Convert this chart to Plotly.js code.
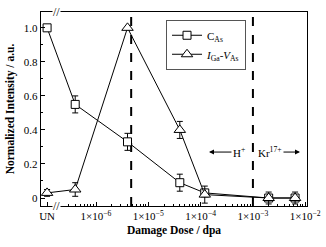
<!DOCTYPE html>
<html>
<head>
<meta charset="utf-8">
<script src="https://cdn.plot.ly/plotly-3.0.1.min.js"></script>
<style>html,body{margin:0;padding:0;background:#fff;}#chart{width:326px;height:247px;}</style>
</head>
<body>
<div id="chart"></div>
<script>
// ---- data ----
var categories = ['UN', '4e-7', '4e-6', '4e-5', '1.2e-4', '2e-3', '6.4e-3'];
var unPosition = 1.16e-7;            // where the "UN" (unirradiated) sample sits on the broken axis
var doses = [null, 4e-7, 4e-6, 4e-5, 1.2e-4, 2e-3, 6.4e-3];
var cAs = [1.0, 0.55, 0.33, 0.09, 0.03, 0.0, 0.0];
var cAsErr = [0, 0.05, 0.05, 0.05, 0.02, 0.02, 0.02];
var iGaVAs = [0.03, 0.05, 1.0, 0.40, 0.02, 0.0, 0.0];
var iGaVAsErr = [0.02, 0.04, 0, 0.05, 0.05, 0.035, 0.035];
var boundaries = [4.7e-6, 1e-3];
var xTickVals = [unPosition, 1e-6, 1e-5, 1e-4, 1e-3, 1e-2];
var xTickText = ['UN', '1×10<sup>−6</sup>', '1×10<sup>−5</sup>', '1×10<sup>−4</sup>', '1×10<sup>−3</sup>', '1×10<sup>−2</sup>'];
var yTickVals = [0, 0.2, 0.4, 0.6, 0.8, 1.0];
var yTickText = ['0', '0.2', '0.4', '0.6', '0.8', '1.0'];

var xs = doses.map(function (d, i) { return categories[i] === 'UN' ? unPosition : d; });

var minorVals = [];
[1e-7, 1e-6, 1e-5, 1e-4, 1e-3].forEach(function (dec) {
  for (var k = 2; k <= 9; k++) {
    var v = k * dec;
    if (v > 2.5e-7 && v < 1.05e-2) minorVals.push(v);
  }
});

var FONT = 'Liberation Serif, Times New Roman, serif';

var traces = [
  {
    x: xs, y: cAs, name: 'C<sub>As</sub>', type: 'scatter', mode: 'lines+markers',
    line: {color: 'black', width: 1},
    marker: {symbol: 'square', size: 8, color: 'white', line: {color: 'black', width: 1}},
    error_y: {type: 'data', array: cAsErr, visible: true, color: 'black', thickness: 1, width: 3}
  },
  {
    x: xs, y: iGaVAs, name: '<i>I</i><sub>Ga</sub>-<i>V</i><sub>As</sub>', type: 'scatter', mode: 'lines+markers',
    line: {color: 'black', width: 1},
    marker: {symbol: 'triangle-up', size: 10, color: 'white', line: {color: 'black', width: 1}},
    error_y: {type: 'data', array: iGaVAsErr, visible: true, color: 'black', thickness: 1, width: 3}
  }
];

var shapes = boundaries.map(function (b) {
  return {type: 'line', xref: 'x', yref: 'paper', x0: b, x1: b, y0: 0, y1: 1,
          line: {color: 'black', width: 2, dash: 'dash'}, layer: 'below'};
});

var breakLog = -6.765;
var layout = {
  width: 326, height: 247,
  margin: {l: 41, r: 19, t: 12, b: 41},
  paper_bgcolor: 'white', plot_bgcolor: 'white',
  font: {family: FONT, size: 11, color: 'black'},
  showlegend: true,
  legend: {x: 0.47, y: 0.96, xanchor: 'left', yanchor: 'top',
           bordercolor: '#555', borderwidth: 1, bgcolor: 'white',
           font: {family: FONT, size: 11}, tracegroupgap: 0, itemwidth: 30},
  xaxis: {
    type: 'log', range: [-7.052, -1.966],
    tickmode: 'array', tickvals: xTickVals, ticktext: xTickText,
    ticks: 'inside', ticklen: 4, tickcolor: 'black', tickwidth: 1,
    minor: {tickmode: 'array', tickvals: minorVals, ticks: 'inside', ticklen: 2, tickcolor: 'black', showgrid: false},
    showline: true, mirror: true, linecolor: 'black', linewidth: 1.2,
    showgrid: false, zeroline: false,
    tickfont: {family: FONT, size: 11},
    title: {text: '<b>Damage Dose / dpa</b>', font: {family: FONT, size: 11.5}, standoff: 4}
  },
  yaxis: {
    range: [-0.047, 1.093],
    tickmode: 'array', tickvals: yTickVals, ticktext: yTickText,
    ticks: 'inside', ticklen: 4, tickcolor: 'black', tickwidth: 1,
    minor: {dtick: 0.1, tick0: 0, ticks: 'inside', ticklen: 2, tickcolor: 'black', showgrid: false},
    showline: true, mirror: true, linecolor: 'black', linewidth: 1.2,
    showgrid: false, zeroline: false,
    tickfont: {family: FONT, size: 11},
    title: {text: '<b>Normalized Intensity / a.u.</b>', font: {family: FONT, size: 11.5}, standoff: 6}
  },
  shapes: shapes,
  annotations: [
    {xref: 'x', yref: 'paper', x: breakLog, y: 0, text: '//', showarrow: false,
     font: {family: FONT, size: 12}, bgcolor: 'white', xanchor: 'center', yanchor: 'middle', borderpad: 0},
    {xref: 'x', yref: 'paper', x: breakLog, y: 1, text: '//', showarrow: false,
     font: {family: FONT, size: 12}, bgcolor: 'white', xanchor: 'center', yanchor: 'middle', borderpad: 0},
    {xref: 'x', yref: 'y', x: -3.84, y: 0.27, text: 'H<sup>+</sup>', showarrow: true,
     ax: 30, ay: 0, arrowhead: 2, arrowsize: 1, arrowwidth: 1, arrowcolor: 'black',
     font: {family: FONT, size: 11}},
    {xref: 'x', yref: 'y', x: -2.10, y: 0.27, text: 'Kr<sup>17+</sup>', showarrow: true,
     ax: -30, ay: 0, arrowhead: 2, arrowsize: 1, arrowwidth: 1, arrowcolor: 'black',
     font: {family: FONT, size: 11}}
  ]
};

Plotly.newPlot('chart', traces, layout, {staticPlot: true, displayModeBar: false});
</script>
</body>
</html>
